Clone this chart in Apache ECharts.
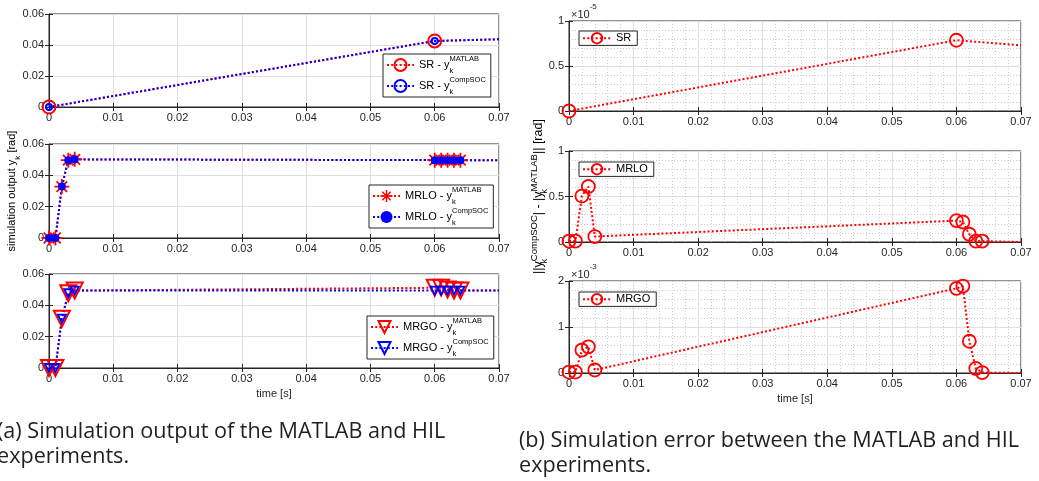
<!DOCTYPE html>
<html>
<head>
<meta charset="utf-8">
<script src="https://cdn.jsdelivr.net/npm/echarts@6/dist/echarts.min.js"></script>
<style>
  html, body { margin: 0; padding: 0; background: #fff; }
  #main { width: 1039px; height: 481px; }
</style>
</head>
<body>
<div id="main"></div>
<script>
// time stamps [s]
const timeSR = [0, 0.06, 0.07];
const timeMR = [0, 0.001, 0.002, 0.003, 0.004, 0.06, 0.061, 0.062, 0.063, 0.064, 0.07];

// simulation output y_k [rad]
const srMatlab = [0, 0.0426, 0.0437];
const srCompSOC = [0, 0.0426, 0.0437];
const mrloMatlab = [0, 0, 0.0328, 0.0497, 0.0502, 0.0497, 0.0497, 0.0497, 0.0497, 0.0497, 0.0497];
const mrloCompSOC = [0, 0, 0.0328, 0.0497, 0.0502, 0.0497, 0.0497, 0.0497, 0.0497, 0.0497, 0.0497];
const mrgoMatlab = [0, 0, 0.0315, 0.0477, 0.0494, 0.0512, 0.0513, 0.0501, 0.0495, 0.0494, 0.0494];
const mrgoCompSOC = [0, 0, 0.0315, 0.0477, 0.0494, 0.0494, 0.0494, 0.0494, 0.0494, 0.0494, 0.0494];

// error ||y^CompSOC| - |y^MATLAB||  (SR in 1e-5, MRLO / MRGO in 1e-3)
const errSR = [0, 0.786, 0.73];
const errMRLO = [0.01, 0.01, 0.505, 0.61, 0.06, 0.235, 0.22, 0.085, 0.01, 0.01, 0];
const errMRGO = [0.02, 0.02, 0.5, 0.57, 0.065, 1.84, 1.89, 0.69, 0.1, 0.01, 0];

const captions = [
  ['(a) Simulation output of the MATLAB and HIL', 'experiments.'],
  ['(b) Simulation error between the MATLAB and HIL', 'experiments.'],
];

const FONT = '"Liberation Sans", Arial, sans-serif';
const CAP_FONT = '21.6px "Open Sans"';
const TXT = '#262626';
const RED = '#ff0000';
const BLUE = '#0000ff';
// MATLAB style '*' marker
const ASTERISK = 'path://M-1.2,-10L1.2,-10L1.2,10L-1.2,10Z M-10,-1.2L10,-1.2L10,1.2L-10,1.2Z ' +
  'M-6.2,-7.9L7.9,6.2L6.2,7.9L-7.9,-6.2Z M-7.9,6.2L6.2,-7.9L7.9,-6.2L-6.2,7.9Z';

var chartDom = document.getElementById('main');
var myChart = echarts.init(chartDom);

const gridPos = [
  { left: 49, top: 14, width: 450, height: 93 },
  { left: 49, top: 144, width: 450, height: 94 },
  { left: 49, top: 274, width: 450, height: 94 },
  { left: 569, top: 21, width: 452, height: 90 },
  { left: 569, top: 151, width: 452, height: 91 },
  { left: 569, top: 281, width: 452, height: 92 },
];

// rich text pieces for y_k^{...}
function richSub(big, small) {
  return {
    b: { fontFamily: FONT, fontSize: big, color: '#000', lineHeight: 20, verticalAlign: 'middle' },
    k: { fontFamily: FONT, fontSize: small, color: '#000', lineHeight: 8, verticalAlign: 'bottom', width: 0 },
    kk: { fontFamily: FONT, fontSize: small, color: '#000', lineHeight: 8, verticalAlign: 'bottom' },
    s: { fontFamily: FONT, fontSize: small, color: '#000', lineHeight: 8, verticalAlign: 'top' },
  };
}

function pts(ts, ys) {
  // last point only continues the line to the axis edge, no marker
  return ts.map((t, i) => (i === ts.length - 1 ? { value: [t, ys[i]], symbol: 'none' } : [t, ys[i]]));
}

function series(name, idx, ts, ys, color, symbol, size, opts) {
  opts = opts || {};
  return {
    name: name,
    type: 'line',
    xAxisIndex: idx,
    yAxisIndex: idx,
    data: pts(ts, ys),
    color: color,
    symbol: symbol,
    symbolSize: size,
    symbolRotate: opts.rotate || 0,
    lineStyle: { color: color, width: 2, type: [2, 2.2] },
    itemStyle: opts.filled
      ? { color: color }
      : { color: 'transparent', borderColor: color, borderWidth: opts.bw || 2 },
    emphasis: { disabled: true },
    animation: false,
  };
}

const legendLabels = {
  'SR - MATLAB': '{b|SR - y}{k|k}{s|MATLAB}',
  'SR - CompSOC': '{b|SR - y}{k|k}{s|CompSOC}',
  'MRLO - MATLAB': '{b|MRLO - y}{k|k}{s|MATLAB}',
  'MRLO - CompSOC': '{b|MRLO - y}{k|k}{s|CompSOC}',
  'MRGO - MATLAB': '{b|MRGO - y}{k|k}{s|MATLAB}',
  'MRGO - CompSOC': '{b|MRGO - y}{k|k}{s|CompSOC}',
  'SR': '{r|SR}',
  'MRLO': '{r|MRLO}',
  'MRGO': '{r|MRGO}',
};

function legend(names, left, top, small) {
  return {
    data: names,
    left: left,
    top: top,
    orient: 'vertical',
    backgroundColor: '#fff',
    borderColor: TXT,
    borderWidth: 1,
    borderRadius: 0,
    padding: small ? [1, 6, 1, 3] : [1, 5, 1, 3],
    itemWidth: small ? 28 : 27,
    itemHeight: small ? 13 : 15,
    itemGap: small ? 0 : 1,
    selectedMode: false,
    formatter: (n) => legendLabels[n],
    textStyle: {
      fontFamily: FONT,
      fontSize: 11,
      color: '#000',
      rich: Object.assign({}, richSub(11, 7.5), {
        r: { fontFamily: FONT, fontSize: 11, color: '#000', lineHeight: 13 },
      }),
    },
  };
}

const fmt2 = (v) => (v === 0 ? '0' : v.toFixed(2));
const fmtE = (v) => String(+v.toFixed(1));

const yMax = [0.06, 0.06, 0.06, 1, 1, 2];
const yInt = [0.02, 0.02, 0.02, 0.5, 0.5, 1];
const yExp = ['', '', '', '-5', '-3', '-3'];

const xAxes = gridPos.map((g, i) => ({
  type: 'value',
  gridIndex: i,
  min: 0,
  max: 0.07,
  interval: 0.01,
  axisLine: { show: true, onZero: false, lineStyle: { color: TXT, width: 1 } },
  axisTick: { show: true, inside: true, length: 4, lineStyle: { color: TXT } },
  axisLabel: { formatter: fmt2, color: TXT, fontFamily: FONT, fontSize: 11, margin: 5 },
  splitLine: { show: true, lineStyle: { color: '#e0e0e0', width: 1 } },
  minorTick: { show: false, splitNumber: 5 },
  minorSplitLine: { show: i >= 3, lineStyle: { color: '#cccccc', type: [1, 2], width: 1 } },
  name: i === 2 || i === 5 ? 'time [s]' : '',
  nameLocation: 'middle',
  nameGap: 20,
  nameMoveOverlap: false,
  nameTextStyle: { fontFamily: FONT, fontSize: 11, color: TXT },
}));

const yAxes = gridPos.map((g, i) => {
  const ax = {
    type: 'value',
    gridIndex: i,
    min: 0,
    max: yMax[i],
    interval: yInt[i],
    axisLine: { show: true, lineStyle: { color: TXT, width: 1 } },
    axisTick: { show: true, inside: true, length: 4, lineStyle: { color: TXT } },
    axisLabel: { formatter: i < 3 ? fmt2 : fmtE, color: TXT, fontFamily: FONT, fontSize: 11, margin: 5 },
    splitLine: { show: true, lineStyle: { color: '#e0e0e0', width: 1 } },
    minorTick: { show: false, splitNumber: 5 },
    minorSplitLine: { show: i >= 3, lineStyle: { color: '#cccccc', type: [1, 2], width: 1 } },
  };
  if (i >= 3) {
    ax.name = '{m|×10}{e|' + yExp[i] + '}';
    ax.nameLocation = 'end';
    ax.nameGap = 1;
    ax.nameTextStyle = {
      align: 'left',
      padding: [0, 0, 0, 2],
      rich: {
        m: { fontFamily: FONT, fontSize: 11, color: TXT, lineHeight: 17, verticalAlign: 'bottom' },
        e: { fontFamily: FONT, fontSize: 8, color: TXT, lineHeight: 8, verticalAlign: 'top' },
      },
    };
  }
  if (i === 1) {
    ax.name = '{b|simulation output y}{kk|k}{b| [rad]}';
    ax.nameLocation = 'middle';
    ax.nameGap = 27;
    ax.nameMoveOverlap = false;
    ax.nameTextStyle = { rich: richSub(11, 8) };
  }
  if (i === 4) {
    ax.name = '{b|||y}{k|k}{s|CompSOC}{b|| - |y}{k|k}{s|MATLAB}{b||| [rad]}';
    ax.nameLocation = 'middle';
    ax.nameGap = 20;
    ax.nameMoveOverlap = false;
    ax.nameTextStyle = { rich: richSub(12.5, 9.5) };
  }
  return ax;
});

// box ticks on the top and right edges (MATLAB "box on")
gridPos.forEach((g, i) => {
  xAxes.push({
    type: 'value', gridIndex: i, position: 'top', min: 0, max: 0.07, interval: 0.01,
    axisLine: { show: false }, axisLabel: { show: false }, splitLine: { show: false },
    axisTick: { show: true, inside: true, length: 4, lineStyle: { color: TXT } },
  });
  yAxes.push({
    type: 'value', gridIndex: i, position: 'right', min: 0, max: yMax[i], interval: yInt[i],
    axisLine: { show: false }, axisLabel: { show: false }, splitLine: { show: false },
    axisTick: { show: true, inside: true, length: 4, lineStyle: { color: TXT } },
  });
});

option = {
  backgroundColor: '#fff',
  animation: false,
  grid: gridPos.map((g) => Object.assign({ show: true, borderColor: TXT, borderWidth: 1, backgroundColor: '#fff' }, g)),
  xAxis: xAxes,
  yAxis: yAxes,
  legend: [
    legend(['SR - MATLAB', 'SR - CompSOC'], 383, 54),
    legend(['MRLO - MATLAB', 'MRLO - CompSOC'], 369, 185),
    legend(['MRGO - MATLAB', 'MRGO - CompSOC'], 367, 316),
    legend(['SR'], 579, 31, true),
    legend(['MRLO'], 579, 162, true),
    legend(['MRGO'], 579, 292, true),
  ],
  series: [
    series('SR - MATLAB', 0, timeSR, srMatlab, RED, 'circle', 13),
    series('SR - CompSOC', 0, timeSR, srCompSOC, BLUE, 'circle', 6),
    series('MRLO - MATLAB', 1, timeMR, mrloMatlab, RED, ASTERISK, 15, { filled: true }),
    series('MRLO - CompSOC', 1, timeMR, mrloCompSOC, BLUE, 'circle', 8, { filled: true }),
    series('MRGO - MATLAB', 2, timeMR, mrgoMatlab, RED, 'triangle', 16, { rotate: 180 }),
    series('MRGO - CompSOC', 2, timeMR, mrgoCompSOC, BLUE, 'triangle', 8, { rotate: 180, bw: 1.8 }),
    series('SR', 3, timeSR, errSR, RED, 'circle', 13, { bw: 1.8 }),
    series('MRLO', 4, timeMR, errMRLO, RED, 'circle', 13, { bw: 1.8 }),
    series('MRGO', 5, timeMR, errMRGO, RED, 'circle', 13, { bw: 1.8 }),
  ],
  graphic: [
    { type: 'text', x: -3, y: 432, style: { text: captions[0][0], font: CAP_FONT, fill: '#231f20', verticalAlign: 'middle' } },
    { type: 'text', x: -3, y: 457, style: { text: captions[0][1], font: CAP_FONT, fill: '#231f20', verticalAlign: 'middle' } },
    { type: 'text', x: 519, y: 441, style: { text: captions[1][0], font: CAP_FONT, fill: '#231f20', verticalAlign: 'middle' } },
    { type: 'text', x: 519, y: 466, style: { text: captions[1][1], font: CAP_FONT, fill: '#231f20', verticalAlign: 'middle' } },
  ],
};

option && myChart.setOption(option);
</script>
</body>
</html>
